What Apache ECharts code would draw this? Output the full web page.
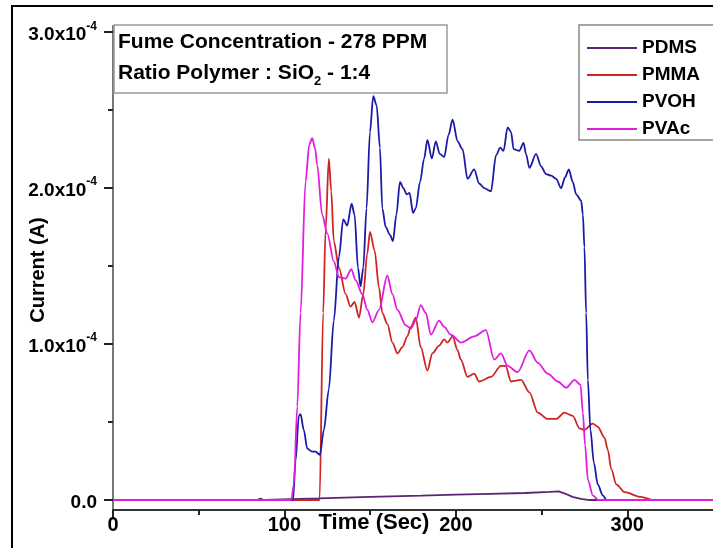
<!DOCTYPE html>
<html>
<head>
<meta charset="utf-8">
<script src="https://cdn.jsdelivr.net/npm/echarts@6/dist/echarts.min.js"></script>
<style>
html,body{margin:0;padding:0;background:#fff;}
#chart{width:713px;height:548px;}
</style>
</head>
<body>
<div id="chart"></div>
<script>
// ---- data (current in units of 1e-4 A, time in s) ----
var seriesNames = ['PDMS', 'PMMA', 'PVOH', 'PVAc'];
var xTicks = [0, 100, 200, 300];
var xMinorTicks = [50, 150, 250];
var yTicks = [0, 1, 2, 3];
var yMinorTicks = [0.5, 1.5, 2.5];

var pdmsTime = [0, 84, 86, 88, 104, 120, 150, 180, 200, 220, 240, 255, 260, 264, 268, 273, 278, 350];
var pdmsVal  = [0, 0, 0.01, 0, 0.005, 0.01, 0.02, 0.028, 0.035, 0.04, 0.045, 0.052, 0.055, 0.04, 0.02, 0.008, 0, 0];

var pmmaTime = [0, 120.5, 122.6, 124, 125.9, 127.3, 128.8, 131.8, 135.7, 138.6, 140.9, 143.5, 146, 148.3, 149.9, 152.6, 155.2, 157.1, 160, 163, 165.9, 168.8, 171.7, 173.7, 176.6, 179.5, 183.4, 186.3, 190.2, 193.2, 195.1, 198.1, 201, 202.9, 206.8, 210.7, 213.6, 220.5, 226.3, 229, 232.2, 238, 242.9, 247.8, 253.6, 258.5, 263.3, 268.2, 272.1, 275, 279.9, 282.8, 286.7, 288.7, 290.6, 293.6, 298.4, 308, 315, 350];
var pmmaVal  = [0, 0, 1.2, 1.73, 2.19, 1.98, 1.66, 1.49, 1.32, 1.24, 1.27, 1.17, 1.32, 1.58, 1.72, 1.60, 1.36, 1.20, 1.13, 1.01, 0.94, 0.98, 1.05, 1.11, 1.17, 0.98, 0.83, 0.94, 0.99, 1.03, 1.01, 1.05, 0.96, 0.90, 0.79, 0.81, 0.76, 0.79, 0.86, 0.86, 0.76, 0.77, 0.69, 0.56, 0.52, 0.52, 0.56, 0.54, 0.46, 0.45, 0.49, 0.47, 0.40, 0.32, 0.20, 0.10, 0.05, 0.02, 0, 0];

var pvohTime = [0, 105, 106.5, 108.4, 109.4, 111.3, 113.3, 116.2, 118.1, 120.7, 123, 125.9, 128.8, 131.8, 134.3, 136.6, 139.2, 140.9, 142.9, 144.4, 146, 147.9, 149.9, 151.8, 153.8, 155.7, 157.1, 159.1, 161.6, 163.3, 165.3, 167.4, 169.4, 171.3, 173, 175, 176.6, 179.1, 181.5, 183.4, 186, 188.3, 190.6, 193.2, 195.7, 198.1, 201, 203.9, 206.8, 210.7, 213.6, 216.5, 220.5, 223.4, 225.9, 227.8, 230.2, 232.2, 233.7, 237, 239.5, 240.9, 242.9, 246.8, 249.7, 252.6, 255.6, 258.5, 261.4, 263.7, 265.9, 268.2, 270.2, 273.1, 274.1, 275, 276, 277, 278.5, 280.5, 282.8, 285.7, 288, 350];
var pvohVal  = [0, 0, 0.25, 0.54, 0.55, 0.45, 0.33, 0.31, 0.31, 0.29, 0.45, 0.71, 1.15, 1.56, 1.80, 1.76, 1.90, 1.83, 1.49, 1.37, 1.49, 1.87, 2.36, 2.59, 2.53, 2.26, 1.87, 1.75, 1.70, 1.66, 1.83, 2.04, 2.00, 1.96, 1.97, 1.84, 1.87, 2.04, 2.19, 2.31, 2.19, 2.30, 2.22, 2.20, 2.34, 2.44, 2.30, 2.25, 2.06, 2.12, 2.03, 2.00, 1.98, 2.21, 2.26, 2.24, 2.39, 2.36, 2.25, 2.24, 2.29, 2.22, 2.13, 2.22, 2.14, 2.09, 2.08, 2.06, 2.00, 2.07, 2.12, 2.04, 1.96, 1.92, 1.83, 1.62, 1.20, 0.77, 0.45, 0.24, 0.10, 0.03, 0, 0];

var pvacTime = [0, 104, 105.5, 107.5, 109.4, 112.3, 114.5, 116.2, 118, 119.1, 122, 125, 128.8, 131.8, 135.7, 139, 141.5, 145.4, 148.4, 151.3, 155.2, 160, 163, 165.9, 170.8, 173.7, 176.6, 179.5, 182.5, 185.4, 190.2, 193.2, 197.1, 203, 210.7, 217.5, 222.4, 226.3, 230.2, 236, 242.9, 247.8, 253.6, 259.5, 264.3, 269.2, 272.7, 274.1, 275.4, 277, 279.9, 283, 350];
var pvacVal  = [0, 0, 0.1, 0.6, 1.20, 2.04, 2.28, 2.32, 2.25, 2.15, 1.83, 1.71, 1.53, 1.43, 1.42, 1.48, 1.41, 1.32, 1.22, 1.14, 1.22, 1.44, 1.32, 1.22, 1.12, 1.10, 1.15, 1.25, 1.20, 1.06, 1.15, 1.11, 1.06, 1.01, 1.05, 1.09, 0.90, 0.94, 0.86, 0.82, 0.96, 0.88, 0.81, 0.76, 0.72, 0.77, 0.74, 0.56, 0.35, 0.13, 0.03, 0, 0];

var colors = ['#5c2470', '#d02424', '#1a1aa8', '#e01ee0'];

function pairs(t, v) { return t.map(function (x, i) { return [x, v[i]]; }); }

var chart = echarts.init(document.getElementById('chart'), null, { renderer: 'canvas' });

var boldFont = 'Liberation Sans, Arial, sans-serif';

function yLabel(v) {
  if (v === 0) return '{a|0.0}';
  return '{a|' + v.toFixed(1) + 'x10}{s|-4}';
}

var option = {
  backgroundColor: '#fff',
  animation: false,
  color: colors,
  grid: { left: 113, right: 0, top: 26, bottom: 38, containLabel: false },
  xAxis: [{
    type: 'value', min: 0, max: 350, position: 'bottom',
    axisLine: { show: true, onZero: false, lineStyle: { color: '#333', width: 2 } },
    axisTick: { show: true, customValues: xTicks, length: 8, lineStyle: { color: '#222', width: 2 } },
    axisLabel: { customValues: xTicks, margin: 5, color: '#000', fontFamily: boldFont, fontWeight: 'bold', fontSize: 20 },
    splitLine: { show: false }
  }, {
    type: 'value', min: 0, max: 350, position: 'bottom',
    axisLine: { show: false, onZero: false },
    axisTick: { show: true, customValues: xMinorTicks, length: 5, lineStyle: { color: '#222', width: 2 } },
    axisLabel: { show: false },
    splitLine: { show: false }
  }],
  yAxis: [{
    type: 'value', min: -0.064, max: 3.04, position: 'left',
    axisLine: { show: true, onZero: false, lineStyle: { color: '#777', width: 2 } },
    axisTick: { show: true, customValues: yTicks, length: 9, lineStyle: { color: '#222', width: 2 } },
    axisLabel: {
      customValues: yTicks, margin: 16, formatter: yLabel,
      rich: {
        a: { fontFamily: boldFont, fontWeight: 'bold', fontSize: 19, color: '#000', lineHeight: 24, verticalAlign: 'bottom' },
        s: { fontFamily: boldFont, fontWeight: 'bold', fontSize: 12, color: '#000', lineHeight: 24, verticalAlign: 'top' }
      }
    },
    splitLine: { show: false }
  }, {
    type: 'value', min: -0.064, max: 3.04, position: 'left',
    axisLine: { show: false, onZero: false },
    axisTick: { show: true, customValues: yMinorTicks, length: 5, lineStyle: { color: '#222', width: 2 } },
    axisLabel: { show: false },
    splitLine: { show: false }
  }],
  legend: {
    data: seriesNames,
    orient: 'vertical', left: 582, top: 33, z: 20,
    icon: 'rect', itemWidth: 50, itemHeight: 2, itemGap: 7,
    textStyle: { fontFamily: boldFont, fontWeight: 'bold', fontSize: 19, color: '#000', lineHeight: 20 },
    selectedMode: false
  },
  series: [
    { name: 'PDMS', type: 'line', data: pairs(pdmsTime, pdmsVal), symbol: 'none', lineStyle: { width: 1.8, color: colors[0] }, itemStyle: { color: colors[0] } },
    { name: 'PMMA', type: 'line', data: pairs(pmmaTime, pmmaVal), symbol: 'none', smooth: 0.3, smoothMonotone: 'x', lineStyle: { width: 1.8, color: colors[1] }, itemStyle: { color: colors[1] } },
    { name: 'PVOH', type: 'line', data: pairs(pvohTime, pvohVal), symbol: 'none', smooth: 0.3, smoothMonotone: 'x', lineStyle: { width: 1.8, color: colors[2] }, itemStyle: { color: colors[2] } },
    { name: 'PVAc', type: 'line', data: pairs(pvacTime, pvacVal), symbol: 'none', smooth: 0.3, smoothMonotone: 'x', lineStyle: { width: 1.8, color: colors[3] }, itemStyle: { color: colors[3] } }
  ],
  graphic: [
    { type: 'rect', shape: { x: 12, y: 6, width: 710, height: 560 }, style: { fill: 'none', stroke: '#000', lineWidth: 2 }, z: 100, silent: true },
    { type: 'rect', shape: { x: 114, y: 25, width: 333, height: 68 }, style: { fill: '#fff', stroke: '#999', lineWidth: 1.5 }, z: 1 },
    { type: 'text', x: 118, y: 42, z: 11, style: { text: 'Fume Concentration - 278 PPM', fontFamily: boldFont, fontWeight: 'bold', fontSize: 21, fill: '#000', verticalAlign: 'middle', align: 'left' } },
    { type: 'text', x: 118, y: 73, z: 11, style: {
        text: '{m|Ratio Polymer : SiO}{b|2}{m| - 1:4}', verticalAlign: 'middle', align: 'left',
        rich: {
          m: { fontFamily: boldFont, fontWeight: 'bold', fontSize: 21, fill: '#000', lineHeight: 30, verticalAlign: 'middle' },
          b: { fontFamily: boldFont, fontWeight: 'bold', fontSize: 13, fill: '#000', lineHeight: 30, verticalAlign: 'bottom' }
        } } },
    { type: 'rect', shape: { x: 579, y: 25, width: 150, height: 115 }, style: { fill: '#fff', stroke: '#888', lineWidth: 1.5 }, z: 1 },
    { type: 'text', x: 374, y: 523, z: 11, style: { text: 'Time (Sec)', fontFamily: boldFont, fontWeight: 'bold', fontSize: 22, fill: '#000', verticalAlign: 'middle', align: 'center' } },
    { type: 'text', x: 38, y: 270, rotation: Math.PI / 2, z: 11, style: { text: 'Current (A)', fontFamily: boldFont, fontWeight: 'bold', fontSize: 20, fill: '#000', verticalAlign: 'middle', align: 'center' } }
  ]
};
chart.setOption(option);
</script>
</body>
</html>
